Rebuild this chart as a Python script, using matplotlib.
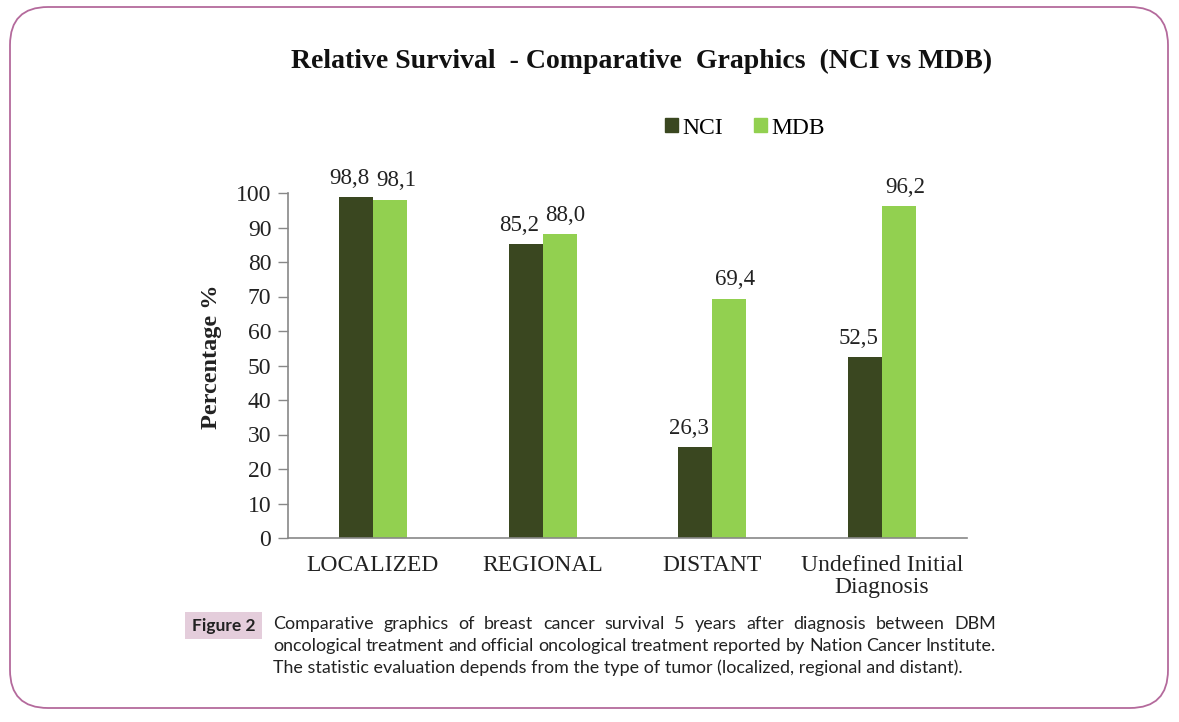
import numpy as np
import matplotlib.pyplot as plt
from matplotlib.patches import FancyBboxPatch, Rectangle, Patch

# data
categories = ['LOCALIZED', 'REGIONAL', 'DISTANT', 'Undefined Initial\nDiagnosis']
nci = [98.8, 85.2, 26.3, 52.5]
mdb = [98.1, 88.0, 69.4, 96.2]
series_names = ['NCI', 'MDB']
yticks = [0, 10, 20, 30, 40, 50, 60, 70, 80, 90, 100]

title = 'Relative Survival  - Comparative  Graphics  (NCI vs MDB)'
ylabel = 'Percentage %'
fig_label = 'Figure 2'
caption = [
    'Comparative graphics of breast cancer survival 5 years after diagnosis between DBM',
    'oncological treatment and official oncological treatment reported by Nation Cancer Institute.',
    'The statistic evaluation depends from the type of tumor (localized, regional and distant).',
]

c_nci = '#3a4720'
c_mdb = '#92d050'
border = '#b46a9c'
serif = ['Liberation Serif', 'DejaVu Serif']
cap_font = ['Lato', 'DejaVu Sans']

W, H = 1179, 722
fig = plt.figure(figsize=(W / 100, H / 100), dpi=100)

# overlay in pixel units for frame and caption
bg = fig.add_axes([0, 0, 1, 1])
bg.set_xlim(0, W)
bg.set_ylim(H, 0)
bg.axis('off')
bg.add_patch(FancyBboxPatch((10, 7), 1158, 701, boxstyle='round,pad=0,rounding_size=38',
                            fc='white', ec=border, lw=1.3))
bg.add_patch(Rectangle((185, 612), 77, 27, fc='#e4cddb', ec='none'))
bg.text(223.5, 626, fig_label, family=cap_font, fontweight='bold', fontsize=12.5,
        color='#222222', ha='center', va='center')

# caption, first two lines justified
x0, x1 = 273, 996
line_y = [624, 646, 668]
cap_size = 12.9
renderer = fig.canvas.get_renderer()
for i, line in enumerate(caption):
    if i == len(caption) - 1:
        bg.text(x0, line_y[i], line, family=cap_font, fontsize=cap_size, color='#222222', va='center')
        continue
    words = line.split(' ')
    objs = [bg.text(x0, line_y[i], w, family=cap_font, fontsize=cap_size, color='#222222', va='center')
            for w in words]
    widths = [o.get_window_extent(renderer).width for o in objs]
    gap = (x1 - x0 - sum(widths)) / (len(words) - 1)
    x = x0
    for o, w in zip(objs, widths):
        o.set_x(x)
        x += w + gap

# chart
ax = fig.add_axes([288 / W, 1 - 538 / H, (967 - 288) / W, (538 - 193) / H])
x = np.arange(len(categories))
bw = 0.2
b1 = ax.bar(x - bw / 2, nci, bw, color=c_nci, label=series_names[0])
b2 = ax.bar(x + bw / 2, mdb, bw, color=c_mdb, label=series_names[1])
for bars, dx in ((b1, -0.04), (b2, 0.035)):
    for r in bars:
        v = r.get_height()
        ax.text(r.get_x() + r.get_width() / 2 + dx, v + 2.4, f'{v:.1f}'.replace('.', ','),
                ha='center', va='bottom', family=serif, fontsize=16.5, color='#222222')

ax.set_xlim(-0.5, len(categories) - 0.5)
ax.set_ylim(0, 100)
ax.set_yticks(yticks)
ax.set_xticks(x)
ax.set_xticklabels(categories, family=serif, fontsize=17, color='#222222', linespacing=1.1)
ax.tick_params(axis='x', length=0, pad=12)
ax.tick_params(axis='y', length=7, width=1, color='#888888', pad=5, labelsize=17)
for t in ax.get_yticklabels():
    t.set_family(serif)
    t.set_color('#222222')
for s in ['top', 'right']:
    ax.spines[s].set_visible(False)
for s in ['left', 'bottom']:
    ax.spines[s].set_color('#888888')
    ax.spines[s].set_linewidth(1.2)

fig.text(212 / W, 1 - 357 / H, ylabel, rotation=90, ha='center', va='center',
         family=serif, fontsize=17.5, fontweight='bold', color='#222222')
fig.text(642 / W, 1 - 61 / H, title, ha='center', va='center',
         family=serif, fontsize=20, fontweight='bold', color='#111111')

handles = [Patch(color=c_nci), Patch(color=c_mdb)]
leg = fig.legend(handles, series_names, loc='center', bbox_to_anchor=(745 / W, 1 - 128 / H),
                 ncol=2, frameon=False, handlelength=0.55, handleheight=0.55,
                 handletextpad=0.2, columnspacing=1.3, prop={'family': serif, 'size': 17})

fig.savefig('out.png', dpi=100)
